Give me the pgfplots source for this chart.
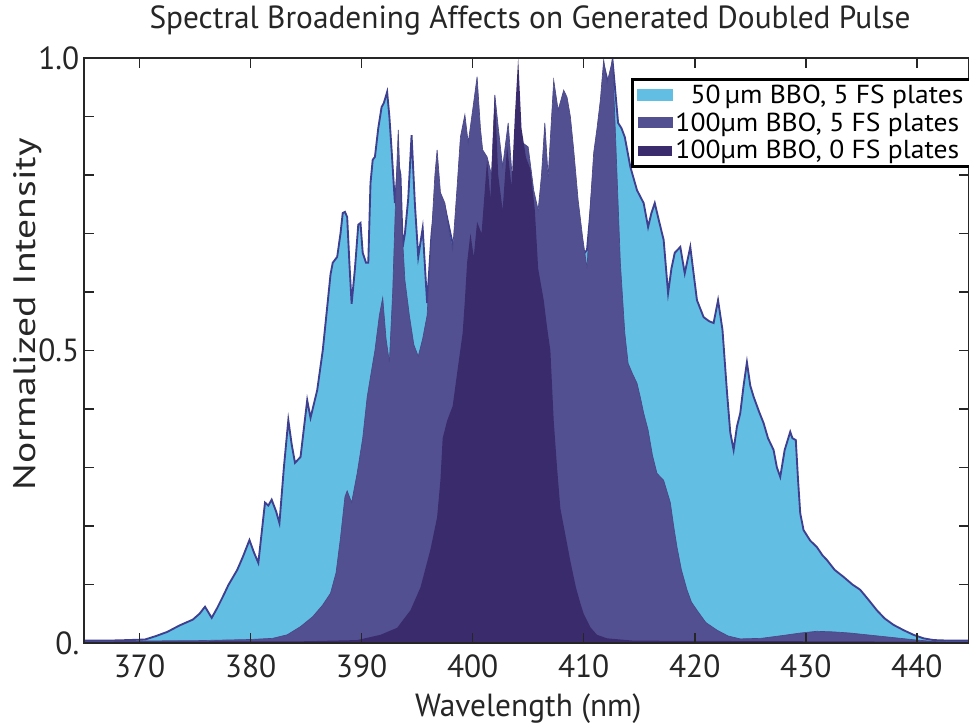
\documentclass[border=0pt]{standalone}
\usepackage{fontspec}
\setmainfont{PT Sans}[FakeStretch=0.98]
\newfontfamily\ylfont{PT Sans}[FakeStretch=1.28]
\newfontfamily\legfont{PT Sans}[FakeStretch=1.06]
\usepackage{pgfplots}
\pgfplotsset{compat=1.18}
\definecolor{lb}{HTML}{62BEE3}
\definecolor{lbo}{HTML}{3E3F8F}
\definecolor{mb}{HTML}{535091}
\definecolor{mbo}{HTML}{4A4889}
\definecolor{dk}{HTML}{3A2C6C}
\begin{document}
\begin{tikzpicture}
\useasboundingbox (-63pt,-60pt) rectangle (663.75pt,482.25pt);
\begin{axis}[
  width=663.75pt, height=438.75pt, scale only axis,
  xmin=365, xmax=444.7, ymin=0, ymax=1,
  xtick={370,380,390,400,410,420,430,440},
  ytick={0,0.1,0.2,0.3,0.4,0.5,0.6,0.7,0.8,0.9,1},
  yticklabels={0.,,,,,0.5,,,,,1.0},
  /pgf/number format/assume math mode=true,
  axis on top,
  axis line style={line width=1.5pt, black!85},
  major tick length=7.5pt,
  tick style={line width=1.2pt, black!85},
  tick label style={font=\fontsize{24}{26}\selectfont, text=black!85},
  xticklabel style={anchor=base, yshift=-25.5pt},
  title={Spectral Broadening Affects on Generated Doubled Pulse},
  title style={at={(rel axis cs:0.504,1)}, anchor=base, yshift=15.75pt, font=\fontsize{24}{26}\selectfont, text=black!85},
  xlabel={Wavelength (nm)},
  xlabel style={at={(rel axis cs:0.502,0)}, anchor=base, yshift=-54.75pt, font=\fontsize{24}{26}\selectfont, text=black!85},
  ylabel={Normalized Intensity},
  ylabel style={at={(rel axis cs:-0.0633,0.562)}, anchor=center, font=\ylfont\fontsize{23.25}{26}\selectfont, text=black!85},
  legend style={at={(rel axis cs:1.003,0.966)}, anchor=north east, draw=black, line width=2.25pt,
    font=\legfont\fontsize{19.5}{21}\selectfont, fill=white, row sep=5.5pt, inner xsep=3pt, inner ysep=4pt,
    nodes={inner xsep=2pt, inner ysep=0pt}},
  legend cell align=left,
]
\addplot[fill=lb, draw=lbo, line width=1.4pt,
  legend image code/.code={\fill[lb] (0pt,-3.75pt) rectangle (25.5pt,3.75pt);}] table {
365.0 0.004
367.0 0.004
369.0 0.005
370.5 0.006
371.5 0.012
372.5 0.019
373.6 0.030
374.8 0.040
375.4 0.050
375.9 0.062
376.5 0.043
377.0 0.060
377.5 0.079
378.0 0.099
378.8 0.125
379.3 0.147
379.9 0.176
380.3 0.155
380.7 0.137
381.3 0.240
381.6 0.235
381.9 0.245
382.3 0.225
382.6 0.205
383.0 0.300
383.4 0.381
383.7 0.340
384.0 0.308
384.5 0.318
385.1 0.415
385.4 0.385
386.0 0.432
386.5 0.500
386.9 0.574
387.2 0.630
387.4 0.650
387.8 0.660
388.1 0.700
388.3 0.735
388.5 0.737
388.7 0.728
388.9 0.650
389.1 0.580
389.4 0.640
389.7 0.715
389.9 0.718
390.1 0.667
390.4 0.650
390.6 0.650
390.8 0.786
391.0 0.826
391.2 0.831
391.5 0.880
391.8 0.916
392.0 0.923
392.3 0.942
392.5 0.900
392.7 0.843
393.0 0.752
393.3 0.820
393.5 0.800
393.7 0.677
393.9 0.700
394.2 0.760
394.5 0.868
394.8 0.750
395.1 0.660
395.5 0.709
395.9 0.581
396.3 0.700
396.8 0.780
397.5 0.745
398.0 0.700
398.4 0.667
398.9 0.800
399.3 0.780
400.0 0.700
401.0 0.660
402.0 0.720
403.0 0.660
404.0 0.700
405.0 0.700
406.0 0.660
407.0 0.700
408.0 0.720
409.0 0.700
409.8 0.660
410.3 0.672
410.9 0.800
411.5 0.900
411.9 0.980
412.3 0.950
412.6 0.995
412.7 0.974
413.1 0.889
413.4 0.880
413.7 0.865
414.2 0.814
414.8 0.774
415.4 0.752
415.8 0.711
416.1 0.735
416.4 0.752
416.8 0.720
417.2 0.689
417.6 0.598
417.9 0.640
418.2 0.667
418.7 0.677
419.1 0.632
419.6 0.677
420.2 0.586
420.8 0.557
421.3 0.550
421.7 0.547
422.1 0.586
422.5 0.535
422.9 0.430
423.2 0.360
423.5 0.330
423.8 0.370
424.1 0.393
424.4 0.440
424.7 0.480
425.0 0.440
425.3 0.421
425.8 0.395
426.2 0.376
426.6 0.350
427.1 0.330
427.4 0.300
427.7 0.284
428.1 0.330
428.6 0.361
428.8 0.350
429.1 0.347
429.3 0.280
429.5 0.222
429.8 0.193
430.4 0.175
431.0 0.164
431.5 0.150
431.9 0.142
432.6 0.125
433.4 0.113
434.2 0.100
434.9 0.091
435.6 0.075
436.4 0.056
437.1 0.042
437.9 0.031
438.8 0.022
439.7 0.014
440.6 0.008
441.5 0.005
443.0 0.004
444.7 0.004
} \closedcycle;
\addlegendentry{\hphantom{1}50\,µm BBO, 5 FS plates}
\addplot[fill=mb, draw=mbo, line width=0.5pt,
  legend image code/.code={\fill[mb] (0pt,-3.75pt) rectangle (25.5pt,3.75pt);}] table {
365.0 0.003
375.0 0.004
380.0 0.006
382.0 0.008
383.3 0.014
384.5 0.028
385.6 0.045
386.5 0.065
387.2 0.085
387.7 0.120
388.1 0.180
388.5 0.250
388.7 0.260
389.1 0.240
389.6 0.290
390.1 0.350
390.5 0.420
390.8 0.455
391.2 0.500
391.6 0.560
391.9 0.590
392.2 0.520
392.5 0.480
392.8 0.600
393.1 0.780
393.3 0.877
393.6 0.720
393.9 0.620
394.3 0.560
394.7 0.510
395.1 0.490
395.5 0.520
395.9 0.560
396.3 0.700
396.6 0.800
396.8 0.843
397.1 0.770
397.5 0.752
397.9 0.700
398.2 0.672
398.6 0.780
398.9 0.865
399.3 0.903
399.6 0.855
400.0 0.911
400.4 0.968
400.7 0.880
400.9 0.843
401.3 0.831
401.7 0.800
402.0 0.937
402.3 0.882
402.7 0.814
403.2 0.889
403.6 0.786
404.0 0.850
404.5 0.855
405.0 0.848
405.5 0.774
405.9 0.740
406.2 0.800
406.5 0.889
406.8 0.797
407.3 0.962
407.7 0.911
408.2 0.945
408.5 0.933
408.8 0.900
409.1 0.843
409.5 0.757
409.9 0.694
410.3 0.640
410.6 0.750
410.9 0.838
411.2 0.880
411.5 0.928
411.8 0.997
412.1 0.957
412.6 0.997
412.9 0.850
413.3 0.650
413.7 0.530
414.0 0.478
414.4 0.460
414.8 0.444
415.1 0.420
415.4 0.393
415.8 0.364
416.2 0.320
416.6 0.290
417.2 0.278
417.8 0.240
418.1 0.200
418.4 0.164
418.8 0.125
419.3 0.091
419.7 0.070
420.2 0.056
421.0 0.035
422.0 0.022
423.0 0.012
424.1 0.007
426.0 0.008
428.0 0.013
429.5 0.017
431.0 0.020
432.5 0.019
434.0 0.017
435.5 0.014
437.5 0.010
440.0 0.005
442.0 0.002
444.7 0.002
} \closedcycle;
\addlegendentry{100µm BBO, 5 FS plates}
\addplot[fill=dk, draw=none,
  legend image code/.code={\fill[dk] (0pt,-3.75pt) rectangle (25.5pt,3.75pt);}] table {
365.0 0.002
385.0 0.003
389.6 0.005
391.7 0.014
393.2 0.026
394.4 0.056
395.3 0.095
396.2 0.160
396.8 0.215
397.1 0.279
397.3 0.350
397.7 0.380
398.2 0.405
398.7 0.475
399.1 0.530
399.3 0.586
399.5 0.650
399.8 0.700
400.1 0.660
400.4 0.720
400.8 0.700
401.3 0.826
401.6 0.760
402.0 0.937
402.3 0.800
402.7 0.740
403.1 0.850
403.5 0.780
403.8 0.900
404.1 1.000
404.4 0.880
404.8 0.830
405.2 0.810
405.6 0.740
405.9 0.640
406.4 0.586
406.7 0.540
407.0 0.500
407.3 0.380
407.6 0.300
407.9 0.230
408.2 0.200
408.8 0.140
409.3 0.095
409.7 0.068
410.0 0.050
410.6 0.027
411.2 0.014
412.1 0.008
414.5 0.004
444.7 0.002
} \closedcycle;
\addlegendentry{100µm BBO, 0 FS plates}
\end{axis}
\end{tikzpicture}
\end{document}
